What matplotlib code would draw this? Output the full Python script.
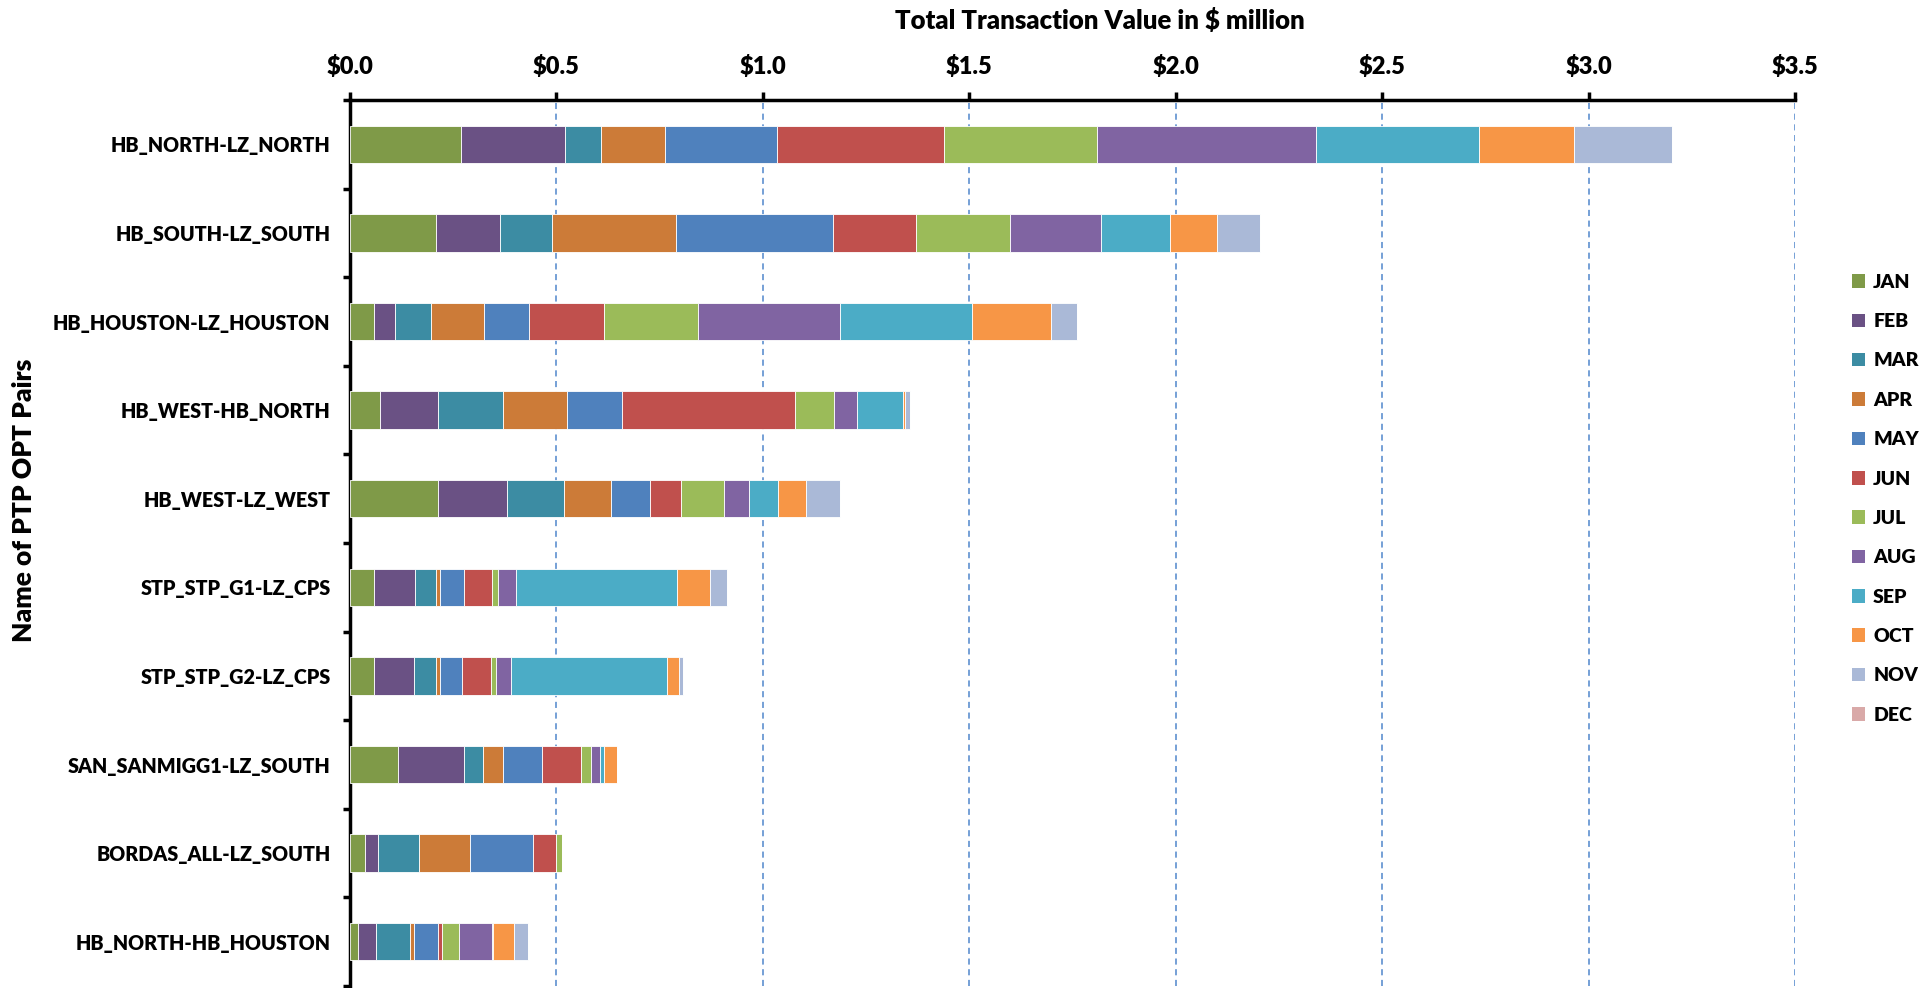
import matplotlib
matplotlib.use("Agg")
import matplotlib.pyplot as plt
from matplotlib.patches import Patch
import numpy as np

plt.rcParams['font.family'] = ['Lato', 'DejaVu Sans']
plt.rcParams['font.weight'] = 'heavy'

pairs = ["HB_NORTH-LZ_NORTH", "HB_SOUTH-LZ_SOUTH", "HB_HOUSTON-LZ_HOUSTON",
         "HB_WEST-HB_NORTH", "HB_WEST-LZ_WEST", "STP_STP_G1-LZ_CPS",
         "STP_STP_G2-LZ_CPS", "SAN_SANMIGG1-LZ_SOUTH", "BORDAS_ALL-LZ_SOUTH",
         "HB_NORTH-HB_HOUSTON"]
months = ["JAN", "FEB", "MAR", "APR", "MAY", "JUN",
          "JUL", "AUG", "SEP", "OCT", "NOV", "DEC"]

# monthly transaction value in $ million, one entry per pair (same order as pairs)
jan = [0.270, 0.208, 0.057, 0.072, 0.213, 0.059, 0.059, 0.116, 0.036, 0.020]
feb = [0.250, 0.155, 0.052, 0.140, 0.167, 0.098, 0.097, 0.159, 0.033, 0.043]
mar = [0.087, 0.127, 0.086, 0.158, 0.138, 0.052, 0.052, 0.048, 0.099, 0.083]
apr = [0.157, 0.300, 0.129, 0.155, 0.115, 0.010, 0.011, 0.048, 0.122, 0.008]
may = [0.270, 0.381, 0.110, 0.133, 0.093, 0.056, 0.053, 0.093, 0.154, 0.058]
jun = [0.404, 0.201, 0.181, 0.419, 0.075, 0.069, 0.070, 0.096, 0.056, 0.011]
jul = [0.372, 0.227, 0.227, 0.095, 0.104, 0.014, 0.012, 0.023, 0.013, 0.041]
aug = [0.529, 0.220, 0.345, 0.057, 0.062, 0.045, 0.037, 0.023, 0.000, 0.081]
sep = [0.396, 0.166, 0.319, 0.111, 0.069, 0.388, 0.377, 0.010, 0.000, 0.002]
oct_ = [0.230, 0.115, 0.193, 0.004, 0.069, 0.082, 0.028, 0.030, 0.000, 0.050]
nov = [0.237, 0.105, 0.063, 0.012, 0.082, 0.041, 0.011, 0.000, 0.000, 0.033]
dec = [0.000, 0.000, 0.000, 0.000, 0.000, 0.000, 0.000, 0.000, 0.000, 0.000]
series = [jan, feb, mar, apr, may, jun, jul, aug, sep, oct_, nov, dec]

colors = ["#7F9A48", "#6A5184", "#3C8CA3", "#CC7B38", "#4F81BD", "#C0504D",
          "#9BBB59", "#8064A2", "#4BACC6", "#F79646", "#AAB9D7", "#D9A9A8"]

xticks = [0.0, 0.5, 1.0, 1.5, 2.0, 2.5, 3.0, 3.5]

fig = plt.figure(figsize=(19.33, 9.88), dpi=100)
ax = fig.add_axes([350 / 1933, 2 / 988, 1445 / 1933, 886 / 988])

y = np.arange(len(pairs))
left = np.zeros(len(pairs))
for m, vals, c in zip(months, series, colors):
    vals = np.array(vals)
    ax.barh(y, vals, left=left, height=0.42, color=c, edgecolor="white",
            linewidth=0.6, zorder=3)
    left += vals

ax.set_xlim(0, 3.5)
ax.set_ylim(len(pairs) - 0.5, -0.5)

# x axis on top
ax.xaxis.tick_top()
ax.set_xticks(xticks)
ax.set_xticklabels([f"${v:.1f}" for v in xticks], fontsize=17)
ax.tick_params(axis="x", direction="out", length=6, width=2.5, pad=10)
ax.xaxis.grid(True, linestyle=(0, (4, 3)), color="#4F86CC", linewidth=1.1, zorder=0)

# y axis: labels at centres, tick marks at category boundaries
ax.set_yticks(y)
ax.set_yticklabels(pairs, fontsize=14.2)
ax.set_yticks(np.arange(len(pairs) + 1) - 0.5, minor=True)
ax.tick_params(axis="y", which="major", length=0, pad=14)
ax.tick_params(axis="y", which="minor", direction="out", length=5, width=2.5)

for s in ["right", "bottom"]:
    ax.spines[s].set_visible(False)
for s in ["top", "left"]:
    ax.spines[s].set_linewidth(2.5)
    ax.spines[s].set_color("black")

fig.text(1100 / 1933, 1 - 20 / 988, "Total Transaction Value in $ million",
         ha="center", va="center", fontsize=18.5)
fig.text(24 / 1933, 1 - 500 / 988, "Name of PTP OPT Pairs", rotation=90,
         ha="center", va="center", fontsize=19)

handles = [Patch(facecolor=c, edgecolor="none") for c in colors]
fig.legend(handles, months, loc="upper left", bbox_to_anchor=(1844 / 1933, 1 - 266 / 988),
           frameon=False, fontsize=14, handlelength=0.7, handleheight=0.7,
           handletextpad=0.4, labelspacing=1.15, borderaxespad=0)

fig.savefig("out.png", dpi=100)
